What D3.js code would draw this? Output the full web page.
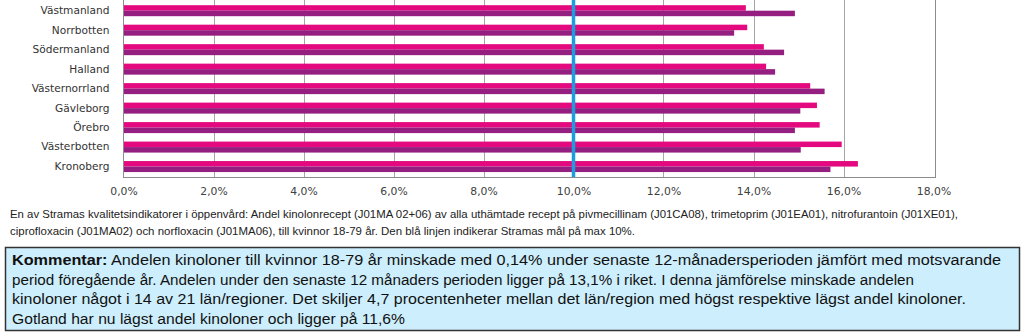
<!DOCTYPE html>
<html><head><meta charset="utf-8">
<script src="https://cdn.jsdelivr.net/npm/d3@7"></script>
<style>body{margin:0;background:#fff}svg{display:block}</style>
</head><body>
<svg id="c" width="1024" height="334"></svg>
<script>
const categories = ["Västmanland","Norrbotten","Södermanland","Halland","Västernorrland","Gävleborg","Örebro","Västerbotten","Kronoberg"];
const seriesCurrent = [13.83,13.86,14.23,14.28,15.26,15.41,15.47,15.96,16.32];
const seriesPrevious = [14.92,13.57,14.68,14.48,15.58,15.04,14.92,15.05,15.71];
const seriesNames = ["current","previous"];
const tickValues = [0,2,4,6,8,10,12,14,16,18];
const target = 10;
const footnoteLines = [
 "En av Stramas kvalitetsindikatorer i öppenvård: Andel kinolonrecept (J01MA 02+06) av alla uthämtade recept på pivmecillinam (J01CA08), trimetoprim (J01EA01), nitrofurantoin (J01XE01),",
 "ciprofloxacin (J01MA02) och norfloxacin (J01MA06), till kvinnor 18-79 år. Den blå linjen indikerar Stramas mål på max 10%."
];
const commentLines = [
 ["Kommentar:"," Andelen kinoloner till kvinnor 18-79 år minskade med 0,14% under senaste 12-månadersperioden jämfört med motsvarande"],
 ["","period föregående år. Andelen under den senaste 12 månaders perioden ligger på 13,1% i riket. I denna jämförelse minskade andelen"],
 ["","kinoloner något i 14 av 21 län/regioner. Det skiljer 4,7 procentenheter mellan det län/region med högst respektive lägst andel kinoloner."],
 ["","Gotland har nu lägst andel kinoloner och ligger på 11,6%"]
];
const commentWidths = [989, 902, 954, 393];
const footnoteWidths = [948, 625];

const svg = d3.select("#c");
const font = "DejaVu Sans, Verdana, sans-serif";
const font2 = "Liberation Sans, Arial, sans-serif";
const x = d3.scaleLinear().domain([0,18]).range([123.5, 933.5]);
const y = d3.scaleBand().domain(categories).range([0.95, 176.3]).paddingInner(0.435).paddingOuter(0.2175);
const ys = d3.scaleBand().domain(seriesNames).range([0, y.bandwidth()]);
const colors = {current:"#E5097F", previous:"#951F80"};
const plotTop = -20, plotBottom = 177;

// gridlines
svg.append("g").selectAll("line").data(tickValues.filter(t=>t>0&&t<18)).join("line")
  .attr("x1",d=>Math.round(x(d))+0.5).attr("x2",d=>Math.round(x(d))+0.5)
  .attr("y1",plotTop).attr("y2",plotBottom).attr("stroke","#a6a6a6").attr("stroke-width",1);
// right border
svg.append("line").attr("x1",935.5).attr("x2",935.5).attr("y1",plotTop).attr("y2",plotBottom+0.5)
  .attr("stroke","#8c8c8c").attr("stroke-width",1);

// bars
const data = categories.map((c,i)=>({cat:c, values:[{s:"current",v:seriesCurrent[i]},{s:"previous",v:seriesPrevious[i]}]}));
const g = svg.append("g").selectAll("g").data(data).join("g")
  .attr("transform",d=>`translate(0,${y(d.cat)})`);
g.selectAll("rect").data(d=>d.values).join("rect")
  .attr("x",x(0)).attr("y",d=>ys(d.s)).attr("height",ys.bandwidth())
  .attr("width",d=>x(d.v)-x(0)).attr("fill",d=>colors[d.s]);

// target line
svg.append("line").attr("x1",x(target)).attr("x2",x(target)).attr("y1",plotTop).attr("y2",plotBottom)
  .attr("stroke","#1a9ede").attr("stroke-width",3.5);

// axes lines
svg.append("line").attr("x1",123.5).attr("x2",123.5).attr("y1",plotTop).attr("y2",plotBottom+0.5).attr("stroke","#8c8c8c");
svg.append("line").attr("x1",123).attr("x2",936).attr("y1",177.5).attr("y2",177.5).attr("stroke","#8c8c8c");

// x tick labels via axis
const xAxis = d3.axisBottom(x).tickValues(tickValues).tickSize(0).tickPadding(0)
  .tickFormat(d=>d3.format(".1f")(d).replace(".",",")+"%");
const ax = svg.append("g").attr("transform","translate(0,187)").call(xAxis);
ax.select(".domain").remove();
ax.selectAll("text").attr("font-family",font).attr("font-size",10.8).attr("fill","#404040").attr("dy","0.71em");

// y labels
const yAxis = d3.axisLeft(y).tickSize(0).tickPadding(0);
const ay = svg.append("g").attr("transform","translate(109.5,0)").call(yAxis);
ay.select(".domain").remove();
ay.selectAll("text").attr("font-family",font).attr("font-size",10.6).attr("fill","#333");

// footnote
svg.append("g").selectAll("text").data(footnoteLines).join("text")
  .attr("x",10).attr("y",(d,i)=>218+i*17)
  .attr("font-family",font2).attr("font-size",10.3).attr("fill","#222")
  .attr("textLength",(d,i)=>footnoteWidths[i]).attr("lengthAdjust","spacingAndGlyphs")
  .text(d=>d);

// comment box
svg.append("rect").attr("x",5.5).attr("y",247.5).attr("width",1014).attr("height",83)
  .attr("fill","#cdeefd").attr("stroke","#333").attr("stroke-width",1.5);
const ct = svg.append("g").selectAll("text").data(commentLines).join("text")
  .attr("x",12).attr("y",(d,i)=>265+i*19.6)
  .attr("font-family",font2).attr("font-size",15.5).attr("fill","#111")
  .attr("textLength",(d,i)=>commentWidths[i]).attr("lengthAdjust","spacingAndGlyphs");
ct.each(function(d){
  const t = d3.select(this);
  if (d[0]) t.append("tspan").attr("font-weight","bold").text(d[0]);
  t.append("tspan").text(d[1]);
});
</script>
</body></html>
